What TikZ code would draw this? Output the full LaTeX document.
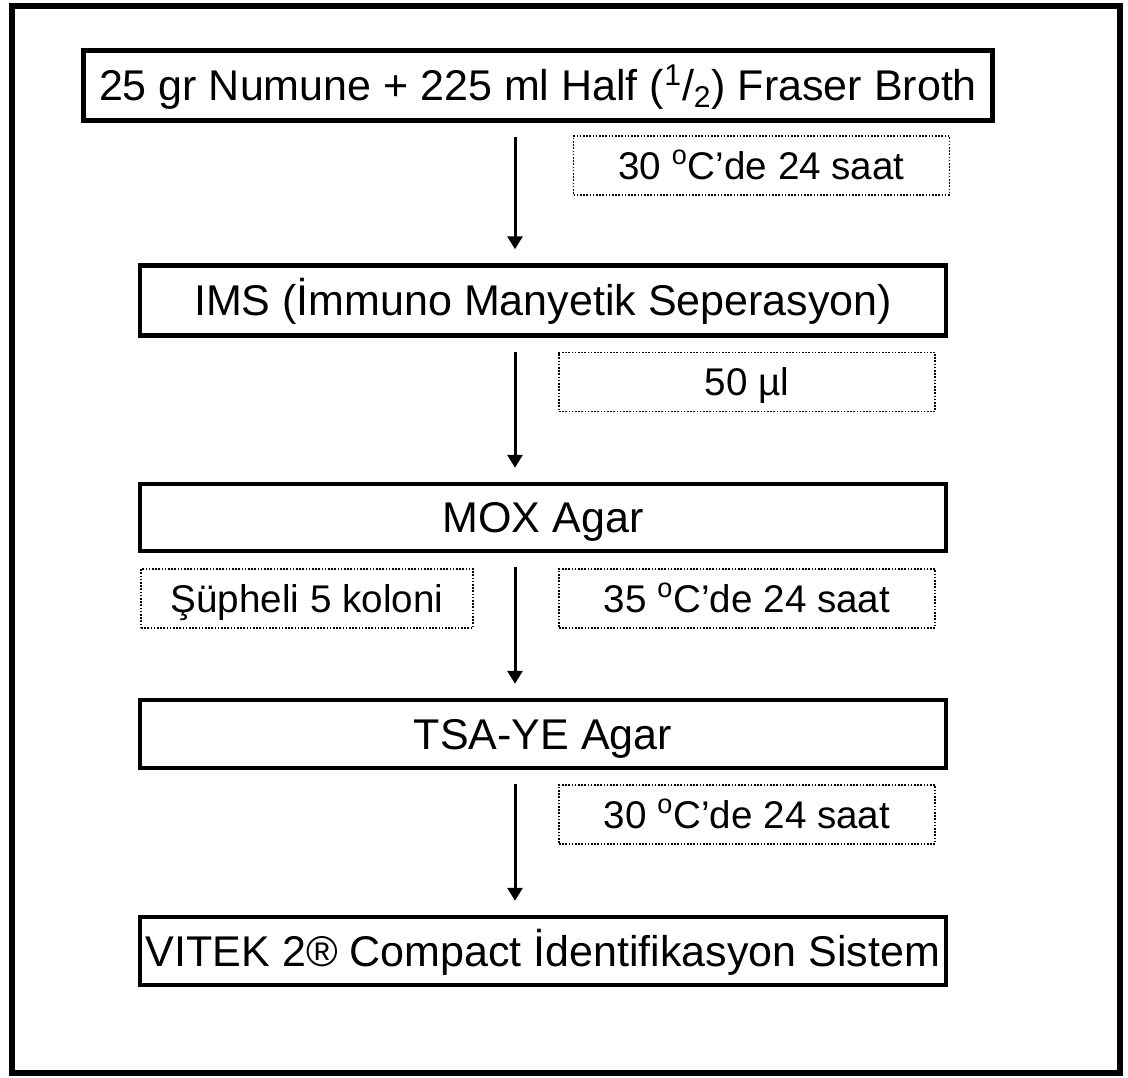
\documentclass[tikz,border=0pt]{standalone}
\usepackage{fontspec}
\setmainfont{Liberation Sans}
\usetikzlibrary{arrows.meta}
\begin{document}
\begin{tikzpicture}[x=0.5pt, y=-0.5pt,
            stage/.style={draw, line width=2.25pt, inner sep=0pt, minimum width=403pt, minimum height=35pt, text height=15.4pt, text depth=0pt, font=\fontsize{21.5}{26}\selectfont},
            note/.style={draw, line width=0.7pt, dash pattern=on 0.8pt off 0.8pt, inner sep=0pt, minimum width=188pt, minimum height=29.5pt, text height=13.8pt, text depth=0pt, font=\fontsize{19.3}{23}\selectfont},
            flow/.style={-{Triangle[width=7.5pt, length=6.5pt]}, line width=1.5pt, shorten <=7pt, shorten >=7pt}
        ]
            \useasboundingbox (0,0) rectangle (1128,1077);
            \draw[line width=3pt] (11.5,5.5) rectangle (1120,1073);
            % main steps
            \node[stage, minimum width=454.5pt] (broth) at (538,85.5) {25 gr Numune + 225 ml Half (\textsuperscript{1}/\textsubscript{2}) Fraser Broth};
            \node[stage] (ims) at (543,300.5) {IMS (İmmuno Manyetik Seperasyon)};
            \node[stage, minimum height=33.5pt] (mox) at (543,517.5) {MOX Agar};
            \node[stage, minimum height=34pt] (tsa) at (543,734) {TSA-YE Agar};
            \node[stage, minimum height=34pt] (vitek) at (543,951) {VITEK 2® Compact İdentifikasyon Sistem};
            % conditions
            \node[note] (inc1) at (761.5,165.5) {30 \textsuperscript{o}C’de 24 saat};
            \node[note] (vol) at (747,382) {50 µl};
            \node[note, minimum width=166pt] (pick) at (307,598.5) {Şüpheli 5 koloni};
            \node[note] (inc2) at (747,598.5) {35 \textsuperscript{o}C’de 24 saat};
            \node[note] (inc3) at (747,814.5) {30 \textsuperscript{o}C’de 24 saat};
            \coordinate (axis) at (515,0);
            \draw[flow] (broth.south -| axis) -- (ims.north -| axis);
            \draw[flow] (ims.south -| axis) -- (mox.north -| axis);
            \draw[flow] (mox.south -| axis) -- (tsa.north -| axis);
            \draw[flow] (tsa.south -| axis) -- (vitek.north -| axis);
        \end{tikzpicture}
\end{document}
